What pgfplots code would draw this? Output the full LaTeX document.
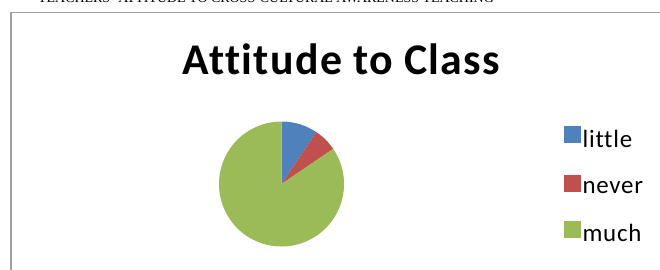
\documentclass[border=0pt]{standalone}
\usepackage{fontspec}
\setmainfont{Liberation Serif}
\newfontfamily\carlitotitle[Ligatures=NoCommon, LetterSpace=3]{Carlito}
\newfontfamily\carlitoleg[Ligatures=NoCommon, LetterSpace=3]{Carlito}
\usepackage{pgfplots}
\usepackage{pgfplotstable}
\pgfplotsset{compat=1.18}
\definecolor{pieblue}{HTML}{4F81BD}
\definecolor{piered}{HTML}{C0504D}
\definecolor{piegreen}{HTML}{9BBB59}
\definecolor{frame}{HTML}{A0A0A0}

\pgfplotstableread{
label value
little 9.4
never 6.1
much 84.5
}\piedata

\pgfplotstablegetelem{0}{value}\of\piedata \let\vA\pgfplotsretval
\pgfplotstablegetelem{1}{value}\of\piedata \let\vB\pgfplotsretval
\pgfplotstablegetelem{2}{value}\of\piedata \let\vC\pgfplotsretval
\pgfmathsetmacro\aA{90}
\pgfmathsetmacro\aB{\aA-3.6*\vA}
\pgfmathsetmacro\aC{\aB-3.6*\vB}
\pgfmathsetmacro\aD{\aC-3.6*\vC}

\begin{document}
\begin{tikzpicture}
\begin{axis}[
  x=1bp, y=1bp,
  xmin=0, xmax=660, ymin=0, ymax=269,
  hide axis, clip=false,
  legend style={at={(axis cs:564,143)}, anchor=north west, draw=none, fill=none,
    font=\carlitoleg\fontsize{25}{25}\selectfont, inner sep=0pt, row sep=24bp,
    /tikz/every even column/.append style={column sep=3bp}},
  legend cell align=left,
  legend image code/.code={\fill[#1] (0bp,-3bp) rectangle (16bp,13bp);},
]
% header text (cropped)
\node[anchor=base, font=\fontsize{14}{14}\selectfont] at (axis cs:266,266.8) {TEACHERS' ATTITUDE TO CROSS-CULTURAL AWARENESS TEACHING};
% frame
\draw[frame, line width=1.6bp] (axis cs:11,-5) -- (axis cs:11,256.5) -- (axis cs:665,256.5);
% title
\node[anchor=base, font=\carlitotitle\bfseries\fontsize{44}{44}\selectfont] at (axis cs:341.5,194.7) {Attitude to Class};
% pie
\fill[pieblue] (axis cs:281.5,85) -- ++(\aA:62.5bp) arc[start angle=\aA, end angle=\aB, radius=62.5bp] -- cycle;
\fill[piered] (axis cs:281.5,85) -- ++(\aB:62.5bp) arc[start angle=\aB, end angle=\aC, radius=62.5bp] -- cycle;
\fill[piegreen] (axis cs:281.5,85) -- ++(\aC:62.5bp) arc[start angle=\aC, end angle=\aD, radius=62.5bp] -- cycle;
\addlegendimage{pieblue}
\addlegendentry{little}
\addlegendimage{piered}
\addlegendentry{never}
\addlegendimage{piegreen}
\addlegendentry{much}
\end{axis}
\pgfresetboundingbox
\path[use as bounding box] (current axis.south west) rectangle (current axis.north east);
\end{tikzpicture}
\end{document}
